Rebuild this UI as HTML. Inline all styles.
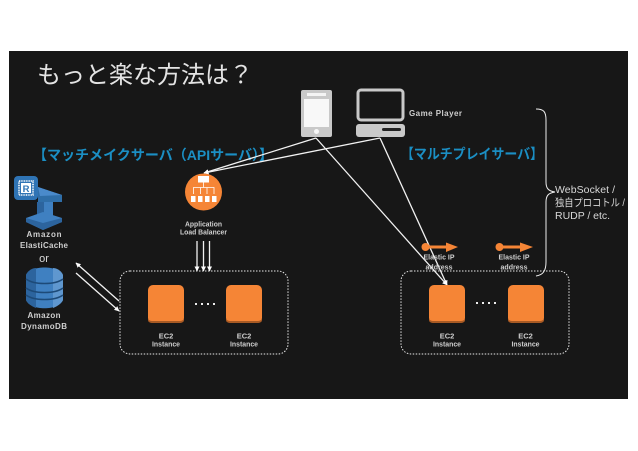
<!DOCTYPE html>
<html><head><meta charset="utf-8">
<style>
html,body{margin:0;padding:0;background:#fff;width:638px;height:451px;overflow:hidden}
svg{display:block}
text{font-family:"Liberation Sans","Noto Sans CJK JP",sans-serif}
</style></head>
<body>
<svg width="638" height="451" viewBox="0 0 638 451" xmlns="http://www.w3.org/2000/svg">
<defs>
<marker id="a" markerWidth="5" markerHeight="5" refX="4.500" refY="2.500" orient="auto-start-reverse" markerUnits="userSpaceOnUse"><path d="M0 0L5 2.500L0 5z" fill="#fff"/></marker>
</defs>
<rect x="9" y="51" width="619" height="348" fill="#171717"/>

<text x="37" y="83" font-size="24" fill="#e4e4e4">もっと楽な方法は？</text>
<text x="33" y="160" font-size="14.2" font-weight="bold" fill="#1b8fc4" textLength="240" lengthAdjust="spacingAndGlyphs">【マッチメイクサーバ（APIサーバ）】</text>
<text x="401" y="159" font-size="14.2" font-weight="bold" fill="#1b8fc4" textLength="142" lengthAdjust="spacingAndGlyphs">【マルチプレイサーバ】</text>

<!-- tablet -->
<rect x="301" y="90" width="31" height="47" rx="2" fill="#c9c9c9"/>
<rect x="307" y="93" width="19" height="3" fill="#f4f4f4"/>
<rect x="304" y="99" width="25" height="28" fill="#f8f8f8"/>
<circle cx="316.500" cy="131.500" r="2.500" fill="#f8f8f8"/>
<!-- monitor -->
<rect x="358" y="90" width="45" height="30" rx="3" fill="#171717" stroke="#c9c9c9" stroke-width="3"/>
<rect x="356" y="124" width="49" height="13" rx="3" fill="#c9c9c9"/>
<rect x="382" y="128" width="19" height="3" rx="1.500" fill="#222"/>
<text x="409" y="116" font-size="8" font-weight="bold" fill="#cfcfcf" textLength="53">Game Player</text>

<!-- connector lines -->
<g stroke="#f2f2f2" stroke-width="1.300" fill="none">
<path d="M316 138L204 173" marker-end="url(#a)"/>
<path d="M380 138L204 173" marker-end="url(#a)"/>
<path d="M316 138L447 285" marker-end="url(#a)"/>
<path d="M380 138L447 285" marker-end="url(#a)"/>
<path d="M197 241V271" marker-end="url(#a)"/>
<path d="M203.500 241V271" marker-end="url(#a)"/>
<path d="M209.500 241V271" marker-end="url(#a)"/>
<path d="M76 263L119 301" marker-start="url(#a)"/>
<path d="M76 273L119 311" marker-end="url(#a)"/>
</g>

<!-- brace -->
<path d="M536 109C544 109 546 112 546 120V182C546 188 548 191 555 192C548 193 546 196 546 202V262C546 271 543 275 536 276" fill="none" stroke="#eee" stroke-width="1"/>
<g font-size="10.500" fill="#d8d8d8">
<text x="555" y="193" textLength="60">WebSocket /</text>
<text x="555" y="206" textLength="70" lengthAdjust="spacingAndGlyphs">独自プロコトル /</text>
<text x="555" y="219" textLength="55">RUDP / etc.</text>
</g>

<!-- ALB -->
<circle cx="203.500" cy="192" r="18.500" fill="#f58536"/>
<g fill="#fff">
<rect x="198" y="176" width="11" height="6.500"/>
<rect x="191" y="196" width="4.500" height="6"/>
<rect x="198" y="196" width="4.500" height="6"/>
<rect x="205" y="196" width="4.500" height="6"/>
<rect x="212" y="196" width="4.500" height="6"/>
</g>
<path d="M203.500 182.500V187.500M193.500 194V187.500H214V194M200.500 187.500V194M207 187.500V194" stroke="#fff" stroke-width=".8" fill="none"/>
<g font-size="7.500" fill="#cfcfcf" text-anchor="middle" font-weight="bold">
<text x="203.500" y="226.500" textLength="37" lengthAdjust="spacingAndGlyphs">Application</text>
<text x="203.500" y="234.500" textLength="47" lengthAdjust="spacingAndGlyphs">Load Balancer</text>
</g>

<!-- ElastiCache -->
<path d="M38 187L62 195V202H38z" fill="#2f6ea8"/>
<path d="M38 187L62 195L40 196z" fill="#4a8acb"/>
<rect x="37" y="202" width="16" height="14" fill="#3f80c1"/>
<rect x="37" y="202" width="7" height="14" fill="#2c649e"/>
<path d="M26 218L43 212L62 218V222L43 230L26 222z" fill="#3f80c1"/>
<path d="M26 218L43 223L62 218V222L43 230L26 222z" fill="#2c649e"/>
<rect x="14" y="176" width="24" height="24" rx="4" fill="#2f74b5"/>
<rect x="19" y="181" width="14" height="14" fill="none" stroke="#fff" stroke-width="1.600" stroke-dasharray="1 .7"/>
<rect x="21" y="183" width="10" height="10" fill="#fff"/>
<text x="26" y="192" font-size="9.500" font-weight="bold" fill="#2f74b5" text-anchor="middle">R</text>
<g font-size="8" fill="#cfcfcf" text-anchor="middle" font-weight="bold">
<text x="44" y="237" textLength="35">Amazon</text>
<text x="44" y="248" textLength="48">ElastiCache</text>
<text x="44" y="318" textLength="33">Amazon</text>
<text x="44" y="329" textLength="46">DynamoDB</text>
</g>
<text x="44" y="262" font-size="11" fill="#d8d8d8" text-anchor="middle">or</text>

<!-- DynamoDB -->
<path d="M26 275C30 265 59 265 63 275V300C59 311 30 311 26 300z" fill="#3f80c1"/>
<path d="M26 275C28 270 33 268 36 268V308C33 307 28 304 26 300z" fill="#2c649e"/>
<path d="M53 268C56 268 61 270 63 275V300C61 304 56 307 53 308z" fill="#5f97cf"/>
<path d="M26 279C34 285 55 285 63 279M26 288C34 294 55 294 63 288M26 295C34 301 55 301 63 295" stroke="#1d4a78" stroke-width="1.600" fill="none"/>

<!-- groups -->
<rect x="120" y="271" width="168" height="83" rx="10" fill="none" stroke="#e8e8e8" stroke-width="1" stroke-dasharray="1.500 1.500"/>
<rect x="401" y="271" width="168" height="83" rx="10" fill="none" stroke="#e8e8e8" stroke-width="1" stroke-dasharray="1.500 1.500"/>

<!-- EC2 -->
<g fill="#f58536">
<rect x="148" y="285" width="36" height="38" rx="5"/>
<rect x="226" y="285" width="36" height="38" rx="5"/>
<rect x="429" y="285" width="36" height="38" rx="5"/>
<rect x="508" y="285" width="36" height="38" rx="5"/>
</g>
<g fill="#a85a24">
<path d="M148 320C148 322 150 323 153 323H179C182 323 184 322 184 320V318C184 320 182 321 179 321H153C150 321 148 320 148 318z"/>
<path d="M226 320C226 322 228 323 231 323H257C260 323 262 322 262 320V318C262 320 260 321 257 321H231C228 321 226 320 226 318z"/>
<path d="M429 320C429 322 431 323 434 323H460C463 323 465 322 465 320V318C465 320 463 321 460 321H434C431 321 429 320 429 318z"/>
<path d="M508 320C508 322 510 323 513 323H539C542 323 544 322 544 320V318C544 320 542 321 539 321H513C510 321 508 320 508 318z"/>
</g>
<g fill="#eee">
<rect x="195" y="303" width="2" height="2"/><rect x="201" y="303" width="2" height="2"/><rect x="207" y="303" width="2" height="2"/><rect x="213" y="303" width="2" height="2"/>
<rect x="476" y="302" width="2" height="2"/><rect x="482" y="302" width="2" height="2"/><rect x="488" y="302" width="2" height="2"/><rect x="494" y="302" width="2" height="2"/>
</g>
<g font-size="7.500" fill="#cfcfcf" text-anchor="middle" font-weight="bold">
<text x="166" y="338.500">EC2</text><text x="166" y="346.500" textLength="28" lengthAdjust="spacingAndGlyphs">Instance</text>
<text x="244" y="338.500">EC2</text><text x="244" y="346.500" textLength="28" lengthAdjust="spacingAndGlyphs">Instance</text>
<text x="447" y="338.500">EC2</text><text x="447" y="346.500" textLength="28" lengthAdjust="spacingAndGlyphs">Instance</text>
<text x="525.500" y="338.500">EC2</text><text x="525.500" y="346.500" textLength="28" lengthAdjust="spacingAndGlyphs">Instance</text>
<text x="439" y="259.500" textLength="31" lengthAdjust="spacingAndGlyphs">Elastic IP</text><text x="439" y="269.500" textLength="27" lengthAdjust="spacingAndGlyphs">address</text>
<text x="514" y="259.500" textLength="31" lengthAdjust="spacingAndGlyphs">Elastic IP</text><text x="514" y="269.500" textLength="27" lengthAdjust="spacingAndGlyphs">address</text>
</g>

<!-- Elastic IP arrows -->
<g fill="#f58536">
<circle cx="425.500" cy="247" r="4"/><rect x="425" y="245.500" width="22" height="3"/><path d="M446 242.500L458 247L446 252z"/>
<circle cx="499.500" cy="247" r="4"/><rect x="499" y="245.500" width="22" height="3"/><path d="M520 242.500L533 247L520 252z"/>
</g>
</svg>
</body></html>
